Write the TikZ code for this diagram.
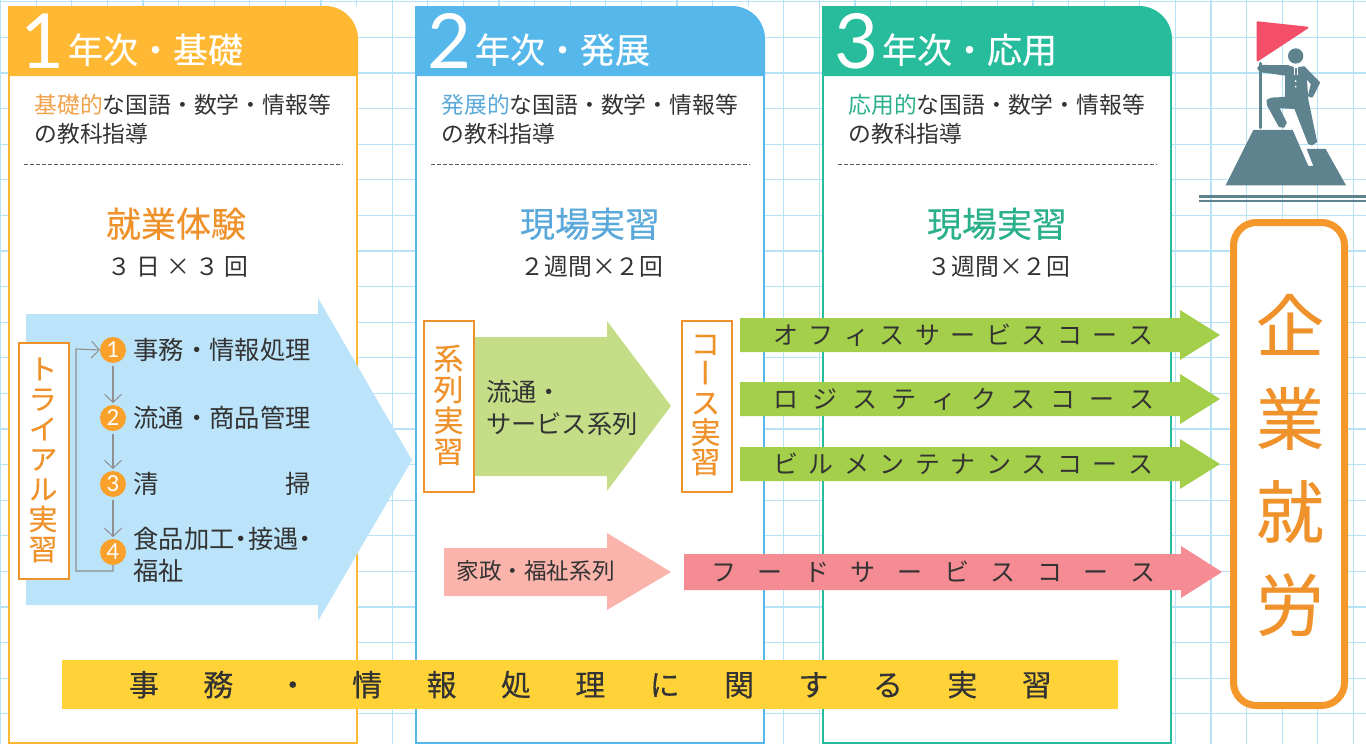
\documentclass[tikz,border=0pt]{standalone}
\usepackage{fontspec}
\setmainfont{Noto Sans CJK JP}
\newfontfamily\vfont[RawFeature=+vert]{Noto Sans CJK JP}
\newfontfamily\fatfont[FakeBold=0.35]{Noto Sans CJK JP}
\newfontfamily\vfatfont[RawFeature=+vert,FakeBold=0.2]{Noto Sans CJK JP}
\newfontfamily\digitfont{Lato}
\definecolor{gridc}{HTML}{B7E3F8}
\definecolor{orA}{HTML}{FFB833}
\definecolor{blA}{HTML}{55B7EA}
\definecolor{grA}{HTML}{27BC9C}
\definecolor{orT}{HTML}{F0922B}
\definecolor{blT}{HTML}{5AA9DA}
\definecolor{grT}{HTML}{2BB08C}
\definecolor{inkc}{HTML}{333333}
\definecolor{skyc}{HTML}{BBE3F9}
\definecolor{lgrc}{HTML}{C5DD87}
\definecolor{lpkc}{HTML}{FAB4AC}
\definecolor{grnc}{HTML}{A4CF4A}
\definecolor{pnkc}{HTML}{F58C93}
\definecolor{yelc}{HTML}{FFD338}
\definecolor{manc}{HTML}{5E838E}
\definecolor{flagc}{HTML}{F44F68}
\definecolor{circc}{HTML}{F9A12B}
\definecolor{linec}{HTML}{8F8F8F}
\newcommand\px[1]{\fontsize{#1}{#1}\selectfont}
\newcommand\pxl[2]{\fontsize{#1}{#2}\selectfont}
\newcommand\lsp[2]{\def\lspk{#1}\lspgo#2\relax}
\def\lspgo#1{\ifx#1\relax\else#1\kern\lspk\relax\expandafter\lspgo\fi}
\usetikzlibrary{arrows.meta}
\tikzset{
  txt/.style={inner sep=0pt,outer sep=0pt,anchor=base west,text=inkc},
  body/.style={txt,font=\px{22.8}},
  item/.style={txt,font=\px{25.3}},
  head/.style={txt,text=white,font=\fatfont\px{35}},
  bignum/.style={txt,text=white,font=\digitfont\px{76}},
  title/.style={txt,font=\fatfont\px{35},anchor=base},
  times/.style={txt,font=\px{23.8},anchor=base},
  course/.style={txt,font=\px{25}},
  vbox/.style={draw=orT,line width=2pt,fill=white,inner sep=0pt,minimum width=50pt,anchor=north west},
  vtxt/.style={inner sep=0pt,outer sep=0pt,align=center,text=orT},
  num/.style={circle,fill=circc,minimum size=26pt,inner sep=0pt,outer sep=0pt,text=white,font=\digitfont\px{22}},
  conn/.style={draw=linec,line width=1.1pt,-{Straight Barb[length=8pt,width=17pt,line width=1pt]}},
}
\newcommand\column[3]{% x0, x1, colour
  \fill[white] (#1,6) rectangle (#2,743);
  \draw[#3,line width=2.5pt] (#1+1.2,76) -- (#1+1.2,743) -- (#2-1.2,743) -- (#2-1.2,76);
  \fill[#3] (#1,76) -- (#1,6) [rounded corners=33pt] -- (#2,6) [sharp corners] -- (#2,76) -- cycle;
}
\newcommand\arrowshape[8]{% x0 y0 y1 xh yhtop yhbot xtip ytip
  (#1,#2) -- (#4,#2) -- (#4,#5) -- (#7,#8) -- (#4,#6) -- (#4,#3) -- (#1,#3) -- cycle
}
\begin{document}
\begin{tikzpicture}[x=1pt,y=-1pt]
\useasboundingbox (0,0) rectangle (1366,744);
\fill[white] (0,0) rectangle (1366,744);
% grid
\foreach \k in {0,...,38} {\draw[gridc,line width=1.2pt] ({0.5+35.6*\k},0) -- ({0.5+35.6*\k},744);}
\foreach \k in {0,...,20} {\draw[gridc,line width=1.2pt] (0,{1.8+35.6*\k}) -- (1366,{1.8+35.6*\k});}
% columns
\column{8}{358}{orA}
\column{415}{765}{blA}
\column{822}{1172}{grA}
% headers
\node[bignum] (n1) at (20,68) {1};
\node[head] (h1) at (68,63) {年次・基礎};
\node[bignum] (n2) at (427,68) {2};
\node[head] (h2) at (475,63) {年次・発展};
\node[bignum] (n3) at (834,68) {3};
\node[head] (h3) at (882,63) {年次・応用};
% body
\node[body] (b1a) at (34.5,113) {\textcolor{orT!85!white}{基礎的}な国語・数学・情報等};
\node[body] (b1b) at (34.5,142) {の教科指導};
\node[body] (b2a) at (441.5,113) {\textcolor{blT}{発展的}な国語・数学・情報等};
\node[body] (b2b) at (441.5,142) {の教科指導};
\node[body] (b3a) at (848.5,113) {\textcolor{grT}{応用的}な国語・数学・情報等};
\node[body] (b3b) at (848.5,142) {の教科指導};
\foreach \x in {24,431,838} {\draw[inkc!80,line width=.8pt,dash pattern=on 4pt off 2pt] (\x,164) -- (\x+319,164);}
% titles
\node[title,text=orT] (t1) at (176,237) {就業体験};
\node[times] (u1) at (178,275) {３ 日 × ３ 回};
\node[title,text=blT] (t2) at (590,237) {現場実習};
\node[times] (u2) at (592,275) {２週間×２回};
\node[title,text=grT] (t3) at (997,237) {現場実習};
\node[times] (u3) at (999,275) {３週間×２回};
% year 1 arrow
\fill[skyc] \arrowshape{26}{314}{605}{318}{298}{621}{412}{460};
\node[vbox,minimum height=236pt] (trial) at (17.5,342) {};
\node[vtxt,font=\vfatfont\pxl{29}{30}] (trialt) at (43,460) {ト\\ラ\\イ\\ア\\ル\\実\\習};
\node[num] (c1) at (113,350) {1};
\node[num] (c2) at (113,418) {2};
\node[num] (c3) at (113,484) {3};
\node[num] (c4) at (113,552) {4};
\draw[conn,shorten <=3pt,shorten >=2pt] (c1) -- (c2);
\draw[conn,shorten <=3pt,shorten >=2pt] (c2) -- (c3);
\draw[conn,shorten <=3pt,shorten >=2pt] (c3) -- (c4);
\coordinate (lp1) at (76,571);
\coordinate (lp2) at (76,349);
\draw[conn] (c4.south) -- (c4.south |- lp1) -- (lp1) -- (lp2) -- (c1.west);
\node[item] (i1) at (133.5,359) {事務・情報処理};
\node[item] (i2) at (133.5,427) {流通・商品管理};
\node[item] (i3) at (133.5,493) {清};
\node[item,anchor=base east] (i3b) at (311,493) {掃};
\node[item] (i4) at (133.5,548) {食品加工\kern-6pt・\kern-6pt接遇\kern-6pt・};
\node[item] (i4b) at (133.5,580) {福祉};
% year 2
\fill[lgrc] \arrowshape{475}{337}{476}{607}{321}{491}{671}{406};
\fill[lpkc] \arrowshape{444}{548}{596}{607}{533}{610}{671}{572};
\node[vbox,minimum height=171pt] (ser) at (423,320) {};
\node[vtxt,font=\vfatfont\pxl{30}{31}] (sert) at (448.5,405) {系\\列\\実\\習};
\node[vbox,minimum height=171pt] (cou) at (680.5,320) {};
\node[vtxt,font=\vfatfont\pxl{30}{29.5}] (cout) at (705.5,405) {コ\\ー\\ス\\実\\習};
\node[item] (s1) at (486,401) {流通・};
\node[item] (s2) at (486,433) {サービス系列};
\node[txt,font=\px{22.6}] (s3) at (456.5,579) {家政・福祉系列};
% course arrows
\fill[grnc] \arrowshape{740}{318}{352}{1180}{310}{360}{1220}{335};
\fill[grnc] \arrowshape{740}{382}{416}{1180}{374}{424}{1220}{399};
\fill[grnc] \arrowshape{740}{447}{481}{1180}{439}{489}{1220}{464};
\fill[pnkc] \arrowshape{684}{554}{590}{1181}{546}{598}{1222}{572};
\node[course] (k1) at (773,344) {\lsp{10.5pt}{オフィスサービスコース}};
\node[course] (k2) at (773,408) {\lsp{14.6pt}{ロジスティクスコース}};
\node[course] (k3) at (773,473) {\lsp{10.5pt}{ビルメンテナンスコース}};
\node[course] (k4) at (711,581) {\lsp{21.6pt}{フードサービスコース}};
% yellow bar
\fill[yelc] (62,660) rectangle (1118,709);
\node[txt,font=\fatfont\px{30}] (bar) at (129,696) {\lsp{44.4pt}{事務・情報処理に関する実習}};
% goal box
\draw[orT!60!circc,line width=7pt,fill=white,rounded corners=23pt] (1233.5,222.5) rectangle (1344.5,705.5);
\node[vtxt,font=\fatfont\pxl{68}{93},text=orT] (goal) at (1290,465) {企\\業\\就\\労};
% figure
\begin{scope}[xshift=1180pt,x=.3333pt,y=-.3333pt]
\fill[manc] (137,556) -- (220,390) -- (338,390) -- (385,498) -- (400,498) -- (380,447) -- (437,447) -- (498,556) -- cycle;
\draw[manc,line width=3.2pt,line cap=round] (242,190) -- (242,383);
\fill[flagc,draw=flagc,line width=2pt,line join=round] (233,67) -- (382,83) -- (233,181) -- cycle;
\fill[manc] (347,168) circle[radius=23];
\fill[manc,draw=manc,line width=1.5pt,line join=round] (234,205) -- (240,197) -- (325,198) -- (345,205) -- (372,201) -- (418,248) -- (396,291) -- (386,287) -- (395,252) -- (378,232) -- (383,300) -- (409,425) -- (396,434) -- (386,430) -- (345,325) -- (295,322) -- (318,368) -- (311,381) -- (298,379) -- (263,315) -- (262,301) -- (275,295) -- (317,293) -- (318,225) -- (240,214) -- cycle;
\fill[white] (341,197) rectangle (353,224);
\fill[manc] (344,203) rectangle (350,224);
\fill[white] (347,243) circle[radius=3];
\fill[white] (347,260) circle[radius=3];
\end{scope}
\fill[manc] (1199,195) rectangle (1366,197.5);
\fill[manc] (1199,199.5) rectangle (1366,202);
\end{tikzpicture}
\end{document}
